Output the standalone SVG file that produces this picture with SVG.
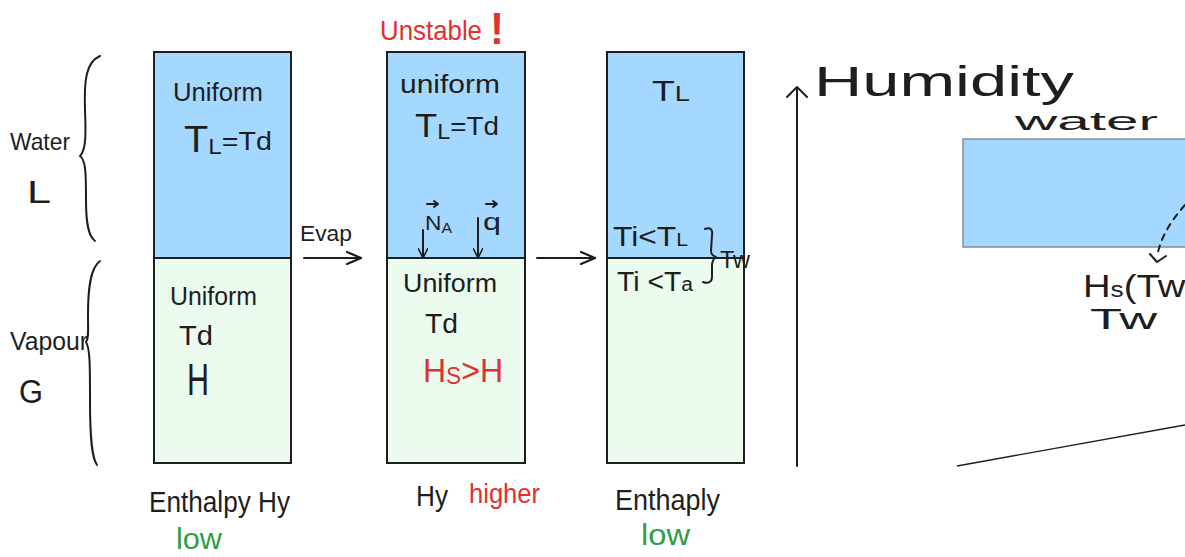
<svg xmlns="http://www.w3.org/2000/svg" width="1185" height="557" viewBox="0 0 1185 557">
<defs>
<style>
.t{font-family:"Liberation Sans","Noto Sans",sans-serif;fill:#1e1e1e;}
.red{fill:#e03131;}
.grn{fill:#2f9e44;}
.ln{stroke:#1e1e1e;stroke-width:2;fill:none;stroke-linecap:round;stroke-linejoin:round;}
.liq{fill:#a5d8ff;stroke:#1e1e1e;stroke-width:2;}
.gas{fill:#ebfbee;stroke:#1e1e1e;stroke-width:2;}
</style>
<marker id="ah" viewBox="0 0 10 10" refX="9" refY="5" markerWidth="10" markerHeight="10" markerUnits="userSpaceOnUse" orient="auto">
<path d="M0,0 L10,5 L0,10" fill="none" stroke="#1e1e1e" stroke-width="1.6"/>
</marker>
<marker id="ah2" viewBox="0 0 16 16" refX="15" refY="8" markerWidth="16" markerHeight="16" markerUnits="userSpaceOnUse" orient="auto">
<path d="M1,2 L15,8 L1,14" fill="none" stroke="#1e1e1e" stroke-width="2.2" stroke-linecap="round"/>
</marker>
</defs>
<rect width="1185" height="557" fill="#ffffff"/>

<g id="labels-left">
<path class="ln" d="M100,56 C86,62 84,80 85,110 C86,135 86,150 80,156 C86,160 86,175 86,200 C86,222 88,236 95,241"/>
<text class="t" x="10" y="150" font-size="24" textLength="60" lengthAdjust="spacingAndGlyphs">Water</text>
<text class="t" x="27" y="203" font-size="32" textLength="24" lengthAdjust="spacingAndGlyphs">L</text>
<path class="ln" d="M100,261 C90,268 88,290 88,315 C88,330 89,338 86,342 C90,348 90,365 90,400 C90,440 92,458 97,465"/>
<text class="t" x="10" y="350" font-size="26" textLength="78" lengthAdjust="spacingAndGlyphs">Vapour</text>
<text class="t" x="19" y="403" font-size="34" textLength="24" lengthAdjust="spacingAndGlyphs">G</text>
</g>

<g id="state1">
<rect class="liq" x="154" y="52" width="137" height="206"/>
<rect class="gas" x="154" y="258" width="137" height="205"/>
<text class="t" x="173" y="101" font-size="25" textLength="90" lengthAdjust="spacingAndGlyphs">Uniform</text>
<text class="t" x="184" y="152" font-size="36" textLength="88" lengthAdjust="spacingAndGlyphs">T<tspan font-size="22" dy="2">L</tspan><tspan font-size="26" dy="-4">=Td</tspan></text>
<text class="t" x="170" y="305" font-size="25" textLength="87" lengthAdjust="spacingAndGlyphs">Uniform</text>
<text class="t" x="179" y="345" font-size="27" textLength="34" lengthAdjust="spacingAndGlyphs">Td</text>
<text class="t" x="187" y="395" font-size="44" textLength="22" lengthAdjust="spacingAndGlyphs">H</text>
<text class="t" x="149" y="512" font-size="30" textLength="141" lengthAdjust="spacingAndGlyphs">Enthalpy Hy</text>
<text class="t grn" x="176" y="549" font-size="30" textLength="46" lengthAdjust="spacingAndGlyphs">low</text>
</g>

<g id="state2">
<text class="t red" x="380" y="40" font-size="28" textLength="102" lengthAdjust="spacingAndGlyphs">Unstable</text>
<text class="t red" x="490" y="44" font-size="44" font-weight="bold" textLength="14" lengthAdjust="spacingAndGlyphs">!</text>
<rect class="liq" x="387" y="52" width="138" height="206"/>
<rect class="gas" x="387" y="258" width="138" height="205"/>
<text class="t" x="400" y="93" font-size="25" textLength="100" lengthAdjust="spacingAndGlyphs">uniform</text>
<text class="t" x="415" y="137" font-size="34" textLength="84" lengthAdjust="spacingAndGlyphs">T<tspan font-size="22" dy="2">L</tspan><tspan font-size="26" dy="-4">=Td</tspan></text>
<text class="t" x="425" y="230" font-size="20" textLength="27" lengthAdjust="spacingAndGlyphs">N<tspan font-size="14" dy="3">A</tspan></text>
<path class="ln" d="M427,204 L438,204 M434,201 L438,204 L434,207" stroke-width="1.5"/>
<text class="t" x="483" y="230" font-size="24" textLength="18" lengthAdjust="spacingAndGlyphs">q</text>
<path class="ln" d="M486,204 L497,204 M493,201 L497,204 L493,207" stroke-width="1.5"/>
<text class="t" x="403" y="292" font-size="25" textLength="94" lengthAdjust="spacingAndGlyphs">Uniform</text>
<text class="t" x="425" y="333" font-size="27" textLength="33" lengthAdjust="spacingAndGlyphs">Td</text>
<text class="t red" x="423" y="382" font-size="34" textLength="80" lengthAdjust="spacingAndGlyphs">H<tspan font-size="24" dy="2">S</tspan><tspan font-size="34" dy="-2">&gt;H</tspan></text>
<text class="t" x="416" y="506" font-size="30" textLength="32" lengthAdjust="spacingAndGlyphs">Hy</text>
<text class="t red" x="469" y="503" font-size="28" textLength="71" lengthAdjust="spacingAndGlyphs">higher</text>
</g>

<g id="state3">
<rect class="liq" x="607" y="52" width="137" height="206"/>
<rect class="gas" x="607" y="258" width="137" height="205"/>
<text class="t" x="652" y="101" font-size="30" textLength="38" lengthAdjust="spacingAndGlyphs">T<tspan font-size="22">L</tspan></text>
<text class="t" x="613" y="246" font-size="27" textLength="75" lengthAdjust="spacingAndGlyphs">Ti&lt;T<tspan font-size="18">L</tspan></text>
<text class="t" x="617" y="291" font-size="27" textLength="76" lengthAdjust="spacingAndGlyphs">Ti &lt;T<tspan font-size="20">a</tspan></text>
<path class="ln" d="M705,229 C710,227 713,229 712,235 L711,251 C711,254 713,256 716,257 C713,259 712,262 712,266 L712,277 C712,282 708,284 703,282"/>
<text class="t" x="720" y="268" font-size="24" textLength="30" lengthAdjust="spacingAndGlyphs">Tw</text>
<text class="t" x="615" y="510" font-size="30" textLength="105" lengthAdjust="spacingAndGlyphs">Enthaply</text>
<text class="t grn" x="641" y="545" font-size="30" textLength="49" lengthAdjust="spacingAndGlyphs">low</text>
</g>

<g id="chart">
<path class="ln" d="M797,466 L797,87 M787,97 L797,87 L807,97"/>
<text class="t" x="814" y="96" font-size="42" textLength="260" lengthAdjust="spacingAndGlyphs">Humidity</text>
<text class="t" x="1015" y="130" font-size="26" textLength="143" lengthAdjust="spacingAndGlyphs">water</text>
<rect x="963" y="139" width="230" height="108" fill="#a5d8ff" stroke="#868e96" stroke-width="1.5"/>
<path d="M1185,205 C1170,222 1162,236 1158,252" fill="none" stroke="#1e1e1e" stroke-width="2" stroke-dasharray="6,6" stroke-linecap="round"/>
<path class="ln" d="M1150,254 L1157,262 L1166,256" stroke-width="1.8"/>
<text class="t" x="1083" y="297" font-size="32" textLength="115" lengthAdjust="spacingAndGlyphs">H<tspan font-size="22">s</tspan>(Tw)</text>
<text class="t" x="1090" y="329" font-size="30" textLength="67" lengthAdjust="spacingAndGlyphs">Tw</text>
<path d="M957,466 L1185,425" fill="none" stroke="#1e1e1e" stroke-width="1.3"/>
</g>

<g id="connectors">
<path class="ln" d="M304,258 L361,258" marker-end="url(#ah2)"/>
<text class="t" x="300" y="241" font-size="22" textLength="52" lengthAdjust="spacingAndGlyphs">Evap</text>
<path class="ln" d="M537,258 L595,258" marker-end="url(#ah2)"/>
<path class="ln" d="M423,230 L423,257" marker-end="url(#ah)"/>
<path class="ln" d="M478,218 L478,257" marker-end="url(#ah)"/>
</g>
</svg>
